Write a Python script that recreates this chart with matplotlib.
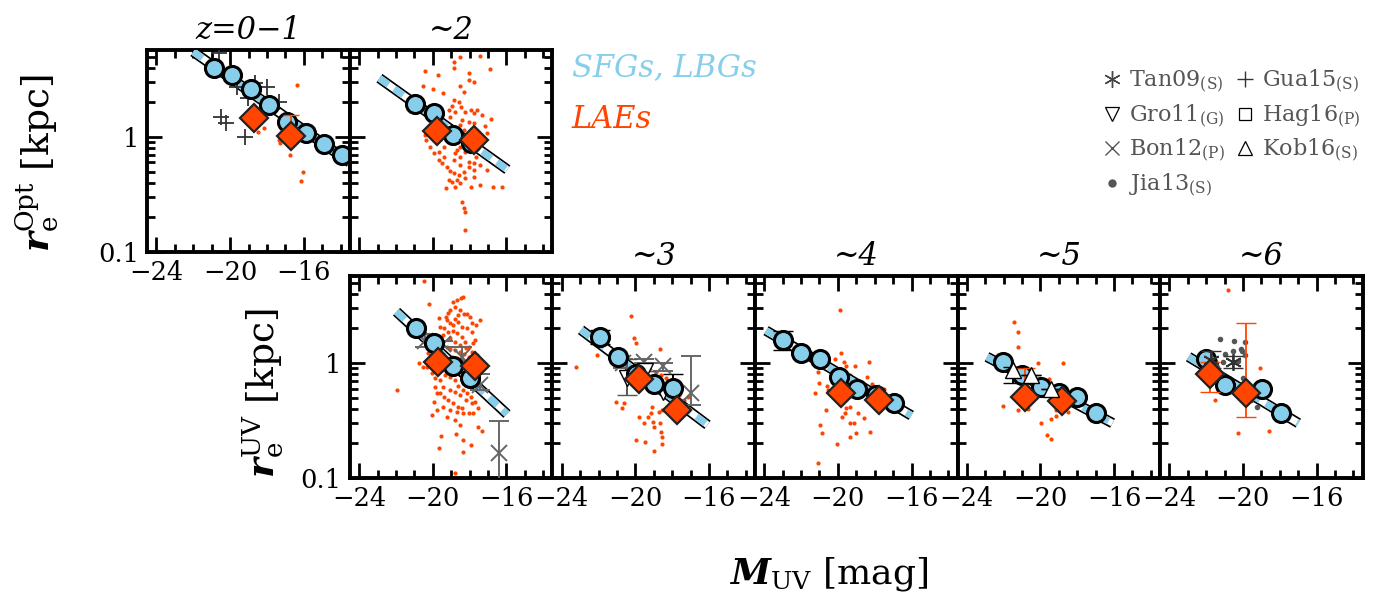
import numpy as np
import matplotlib
matplotlib.use("Agg")
import matplotlib.pyplot as plt
from matplotlib.ticker import MultipleLocator, LogLocator, FuncFormatter, NullFormatter
from matplotlib.lines import Line2D

plt.rcParams['font.family'] = ['DejaVu Serif']
plt.rcParams['mathtext.fontset'] = 'dejavuserif'

SKY = '#87CEEB'
RED = '#FF4500'

# ---------------- z = 0-1 (optical) ----------------
m_sfg_z01 = [-20.86, -19.90, -18.86, -17.90, -16.90, -15.86, -14.90, -13.90]
r_sfg_z01 = [3.96, 3.46, 2.59, 1.90, 1.36, 1.09, 0.87, 0.69]
fit_m_z01 = [-22.0, -13.5]
fit_r_z01 = [5.5, 0.60]
m_lae_z01 = [-18.72, -16.72]
r_lae_z01 = [1.45, 1.01]
r_lae_hi_z01 = [1.45, 1.55]
r_lae_lo_z01 = [1.45, 1.01]
m_dot_z01 = [-16.39, -18.14, -18.50, -17.35, -17.30, -16.77, -16.03, -16.17]
logr_dot_z01 = [0.452, 0.081, 0.046, -0.026, -0.050, -0.157, -0.308, -0.383]
m_gua15 = [-20.63, -19.63, -18.63, -17.99, -19.05, -17.35, -20.48, -20.21, -19.17]
logr_gua15 = [0.727, 0.431, 0.466, 0.431, 0.336, 0.307, 0.171, 0.118, 0.003]

# ---------------- z ~ 2 (optical) ----------------
m_sfg_z2o = [-20.95, -19.95, -18.92, -17.95]
r_sfg_z2o = [1.92, 1.63, 1.04, 0.89]
fit_m_z2o = [-22.9, -15.95]
fit_r_z2o = [3.24, 0.52]
m_lae_z2o = [-19.77, -17.77]
r_lae_z2o = [1.13, 0.95]
m_dot_z2o = [-20.41, -19.72, -18.86, -18.54, -17.41, -16.90, -18.05, -18.86, -20.54, -19.99,
             -19.45, -18.05, -17.77, -18.50, -18.32, -18.86, -18.59, -18.95, -19.14, -18.77,
             -18.46, -18.23, -17.95, -17.77, -17.59, -17.32, -16.86, -17.19, -17.77, -18.05,
             -18.41, -19.05, -18.77, -18.54, -18.32, -19.41, -19.50, -19.32, -20.14, -20.35,
             -20.14, -19.95, -19.68, -19.41, -19.05, -18.68, -18.50, -18.23, -17.95, -17.68,
             -17.50, -17.14, -16.95, -17.41, -17.77, -18.05, -18.32, -18.59, -18.86, -19.05,
             -19.23, -19.50, -18.86, -18.50, -18.23, -18.68, -18.95, -17.77, -16.72, -16.23,
             -17.41, -17.95, -18.50, -19.26, -18.77, -18.41, -18.32, -18.23, -18.23, -17.68,
             -17.41, -17.23, -17.05, -19.95, -20.41, -19.14, -18.95, -18.54, -17.59, -17.95,
             -18.23, -18.50, -18.77, -18.05, -17.77, -17.05, -19.14, -19.41, -19.68]
logr_dot_z2o = [0.577, 0.539, 0.597, 0.698, 0.704, 0.588, 0.559, 0.655, 0.443, 0.414,
                0.379, 0.495, 0.481, 0.443, 0.394, 0.321, 0.307, 0.269, 0.234, 0.220,
                0.258, 0.220, 0.234, 0.205, 0.234, 0.191, 0.153, 0.095, 0.119, 0.133,
                0.148, 0.177, 0.090, 0.104, 0.061, 0.075, 0.148, 0.124, 0.090, -0.026,
                -0.084, -0.142, -0.128, -0.084, -0.055, -0.113, -0.171, -0.128, -0.113, -0.099,
                -0.128, -0.142, -0.171, -0.244, -0.287, -0.258, -0.302, -0.331, -0.316, -0.293,
                -0.258, -0.229, -0.200, -0.244, -0.360, -0.374, -0.389, -0.345, -0.438, -0.432,
                -0.418, -0.432, -0.403, -0.447, -0.432, -0.563, -0.621, -0.650, -0.809, -0.171,
                -0.055, -0.026, 0.032, 0.032, 0.017, -0.026, 0.003, -0.026, 0.003, 0.046,
                -0.026, -0.084, -0.142, -0.215, -0.229, -0.287, -0.374, -0.171, -0.200]

# ---------------- z ~ 2 (UV) ----------------
m_sfg_z2 = [-20.92, -19.92, -18.92, -17.97]
r_sfg_z2 = [2.00, 1.50, 0.94, 0.74]
fit_m_z2 = [-21.97, -15.97]
fit_r_z2 = [2.79, 0.36]
m_lae_z2 = [-19.74, -17.70]
r_lae_z2 = [1.01, 0.94]
m_bon_z2 = [-20.43, -19.43, -18.43, -17.43, -16.43]
r_bon_z2 = [1.55, 1.46, 1.13, 0.64, 0.166]
r_bon_lo_z2 = [1.37, 1.38, 1.02, 0.58, 0.05]
r_bon_hi_z2 = [1.77, 1.55, 1.37, 0.80, 0.31]
m_dot_z2 = [-20.46, -20.19, -19.65, -18.92, -18.66, -18.48, -18.37, -19.28, -19.21, -19.06,
            -18.79, -18.61, -18.30, -18.15, -17.97, -17.43, -17.65, -17.88, -19.61, -19.39,
            -19.15, -18.88, -18.70, -18.43, -18.25, -18.01, -17.83, -17.70, -19.74, -19.57,
            -19.25, -19.06, -18.79, -18.52, -18.30, -18.06, -20.25, -20.37, -20.30, -20.06,
            -19.88, -19.61, -19.34, -19.06, -18.79, -18.61, -18.34, -18.12, -17.94, -17.70,
            -19.88, -19.61, -19.39, -19.15, -18.88, -18.61, -18.43, -18.34, -18.06, -17.79,
            -20.06, -19.25, -18.79, -18.52, -17.57, -17.34, -19.55, -18.74, -18.34, -17.92,
            -19.65, -18.37, -18.79, -21.94, -20.74, -20.55, -19.94, -19.34, -18.52, -19.61,
            -19.06, -18.79, -19.15, -18.52, -18.61, -18.88, -18.43, -18.15, -17.88, -19.43,
            -19.06, -18.79, -18.52, -18.19, -17.88, -17.61, -19.61, -19.25, -18.97, -18.70,
            -18.43, -18.15, -19.79, -19.52, -19.25, -18.79, -18.52, -18.25, -17.97, -17.61,
            -19.79, -19.43, -19.06, -18.79, -18.52, -18.19, -17.88, -17.52, -19.06, -18.70,
            -19.43, -19.79]
logr_dot_z2 = [0.716, 0.513, 0.389, 0.534, 0.548, 0.563, 0.577, 0.403, 0.374, 0.345,
               0.380, 0.360, 0.426, 0.426, 0.403, 0.374, 0.331, 0.345, 0.316, 0.302,
               0.273, 0.282, 0.258, 0.224, 0.186, 0.142, 0.171, 0.200, 0.229, 0.171,
               0.137, 0.119, 0.113, 0.099, 0.079, 0.050, 0.084, 0.012, -0.032, -0.090,
               -0.133, -0.147, -0.104, -0.118, -0.147, -0.200, -0.234, -0.263, -0.292, -0.336,
               -0.205, -0.263, -0.292, -0.321, -0.345, -0.379, -0.394, -0.437, -0.437, -0.437,
               -0.452, -0.466, -0.495, -0.539, -0.553, -0.588, -0.632, -0.617, -0.669, -0.713,
               -0.742, -0.771, -0.959, -0.234, -0.003, -0.032, -0.336, 0.026, -0.032, -0.061,
               0.461, 0.490, 0.432, 0.461, 0.418, 0.331, 0.316, 0.302, 0.273, 0.244,
               0.215, 0.186, 0.157, 0.128, 0.099, 0.070, 0.070, 0.055, 0.055, 0.041,
               0.026, -0.003, -0.032, -0.061, -0.075, -0.075, -0.090, -0.104, -0.118, -0.147,
               -0.263, -0.205, -0.234, -0.249, -0.278, -0.321, -0.350, -0.394, -0.408, -0.423,
               -0.379, -0.408]

# ---------------- z ~ 3 ----------------
m_sfg_z3 = [-21.90, -20.95, -19.94, -18.99, -17.94]
r_sfg_z3 = [1.67, 1.13, 0.81, 0.66, 0.61]
r_sfg_lo_z3 = [1.45, 1.13, 0.81, 0.66, 0.61]
r_sfg_hi_z3 = [1.94, 1.13, 0.81, 0.66, 0.81]
fit_m_z3 = [-22.95, -16.08]
fit_r_z3 = [1.94, 0.29]
m_lae_z3 = [-19.81, -17.72]
r_lae_z3 = [0.72, 0.39]
m_bon_z3 = [-20.66, -19.54, -18.48, -16.99]
r_bon_z3 = [0.99, 1.03, 0.94, 0.55]
r_bon_lo_z3 = [0.90, 0.99, 0.85, 0.43]
r_bon_hi_z3 = [1.09, 1.09, 0.99, 1.15]
m_gro_z3 = [-20.48, -19.50, -18.48]
r_gro_z3 = [0.74, 0.85, 0.56]
r_gro_lo_z3 = [0.53, 0.85, 0.56]
r_gro_hi_z3 = [1.08, 0.85, 0.56]
m_dot_z3 = [-23.21, -22.08, -20.26, -20.05, -19.99, -18.66, -19.81, -19.54, -19.14, -18.90,
            -18.63, -18.35, -18.08, -17.81, -17.63, -17.35, -17.14, -21.03, -20.63, -20.72,
            -19.08, -19.14, -18.72, -18.54, -19.81, -19.54, -19.03, -18.66, -18.99, -19.32,
            -18.63, -18.54, -19.94, -19.50, -18.99, -18.54]
logr_dot_z3 = [-0.037, 0.070, 0.409, 0.215, 0.177, 0.119, -0.032, -0.090, -0.118, -0.075,
               -0.104, -0.133, -0.147, -0.182, -0.278, -0.321, -0.292, -0.336, -0.350, -0.394,
               -0.379, -0.437, -0.423, -0.408, -0.466, -0.524, -0.510, -0.518, -0.553, -0.466,
               -0.597, -0.640, -0.669, -0.684, -0.765, -0.707]

# ---------------- z ~ 4 ----------------
m_sfg_z4 = [-22.99, -21.99, -20.99, -19.95, -18.95, -17.95, -16.95]
r_sfg_z4 = [1.59, 1.23, 1.08, 0.75, 0.59, 0.53, 0.45]
r_sfg_lo_z4 = [1.30, 1.23, 1.08, 0.75, 0.59, 0.53, 0.45]
r_sfg_hi_z4 = [1.91, 1.23, 1.08, 0.75, 0.59, 0.53, 0.45]
fit_m_z4 = [-23.90, -16.01]
fit_r_z4 = [1.91, 0.35]
m_lae_z4 = [-19.83, -17.77]
r_lae_z4 = [0.55, 0.48]
m_dot_z4 = [-19.90, -19.81, -20.17, -19.68, -19.54, -19.05, -18.32, -21.10, -18.41, -19.32,
            -21.05, -20.59, -20.55, -21.23, -18.14, -17.50, -20.63, -19.54, -19.32, -18.92,
            -18.59, -19.77, -19.32, -19.14, -20.99, -20.86, -18.99, -19.32, -18.23, -20.05,
            -21.10, -19.59]
logr_dot_z4 = [0.461, 0.090, 0.032, 0.012, -0.026, -0.026, 0.006, -0.075, -0.118, -0.104,
               -0.176, -0.200, -0.234, -0.263, -0.182, -0.229, -0.408, -0.394, -0.379, -0.432,
               -0.481, -0.466, -0.524, -0.518, -0.539, -0.611, -0.605, -0.640, -0.597, -0.704,
               -0.872, -0.437]

# ---------------- z ~ 5 ----------------
m_sfg_z5 = [-22.03, -20.99, -19.99, -18.99, -17.99, -16.99]
r_sfg_z5 = [1.03, 0.79, 0.62, 0.55, 0.51, 0.37]
fit_m_z5 = [-22.90, -16.08]
fit_r_z5 = [1.13, 0.30]
m_lae_z5 = [-20.81, -18.81]
r_lae_z5 = [0.51, 0.47]
r_lae_lo_z5 = [0.51, 0.47]
r_lae_hi_z5 = [0.90, 0.47]
m_kob_z5 = [-21.48, -20.50, -19.45]
r_kob_z5 = [0.87, 0.79, 0.60]
r_kob_lo_z5 = [0.67, 0.79, 0.60]
r_kob_hi_z5 = [0.92, 0.79, 0.60]
m_dot_z5 = [-21.45, -21.23, -21.23, -20.14, -18.75, -19.54, -22.03, -21.23, -20.68, -19.99,
            -19.45, -19.17, -18.50, -19.63, -19.41, -19.17]
logr_dot_z5 = [0.360, 0.273, 0.137, 0.003, 0.003, -0.142, -0.374, -0.408, -0.403, -0.518,
               -0.489, -0.461, -0.423, -0.626, -0.663, -0.408]

# ---------------- z ~ 6 ----------------
m_sfg_z6 = [-21.99, -20.95, -18.95, -17.94]
r_sfg_z6 = [1.08, 0.64, 0.59, 0.37]
fit_m_z6 = [-22.95, -16.99]
fit_r_z6 = [1.13, 0.30]
m_lae_z6 = [-21.81, -19.81]
r_lae_z6 = [0.80, 0.55]
r_lae_lo_z6 = [0.56, 0.34]
r_lae_hi_z6 = [1.03, 2.21]
m_tan_z6 = [-21.75, -20.54]
r_tan_z6 = [1.06, 1.03]
r_tan_lo_z6 = [0.90, 0.90]
r_tan_hi_z6 = [1.28, 1.15]
m_jia_z6 = [-21.23, -20.48, -19.86, -20.12, -20.05, -20.54, -20.99, -19.86, -21.54, -21.08,
            -20.26, -21.39, -19.99, -19.26, -19.54]
logr_jia_z6 = [0.209, 0.192, 0.186, 0.119, 0.108, 0.108, 0.079, 0.070, 0.018, 0.012,
               0.018, -0.032, -0.133, -0.379, -0.321]
m_dot_z6 = [-20.81, -19.08, -21.54, -20.26, -18.57]
logr_dot_z6 = [0.635, -0.046, -0.321, -0.611, -0.591]


def err(r, lo, hi):
    r = np.asarray(r)
    return [r - np.asarray(lo), np.asarray(hi) - r]


def setup(ax, xlabels=True, ylabels=True):
    ax.set_yscale('log')
    ax.set_xlim(-24.5, -13.5)
    ax.set_ylim(0.1, 5.7)
    ax.xaxis.set_major_locator(MultipleLocator(4))
    ax.xaxis.set_minor_locator(MultipleLocator(1))
    ax.yaxis.set_major_locator(LogLocator(base=10))
    ax.yaxis.set_minor_locator(LogLocator(base=10, subs=np.arange(2, 10)))
    ax.yaxis.set_major_formatter(FuncFormatter(lambda v, p: f'{v:g}'))
    ax.yaxis.set_minor_formatter(NullFormatter())
    ax.tick_params(which='both', direction='in', top=True, right=True, width=2.0,
                   labelsize=18.5, pad=6)
    ax.tick_params(which='major', length=11)
    ax.tick_params(which='minor', length=5.5)
    if not xlabels:
        ax.tick_params(labelbottom=False)
    if not ylabels:
        ax.tick_params(labelleft=False)
    for s in ax.spines.values():
        s.set_linewidth(2.8)


def fitline(ax, m, r):
    # dashed sky-blue/white band with a black outline
    ax.plot(m, r, color='black', lw=7.5, solid_capstyle='butt', zorder=3)
    ax.plot(m, r, color='white', lw=5.0, solid_capstyle='butt', zorder=3)
    ax.plot(m, r, color=SKY, lw=5.0, dashes=(1.6, 1.0), dash_capstyle='butt', zorder=3)


def dots(ax, m, logr):
    ax.scatter(m, 10 ** np.asarray(logr), s=9, color=RED, lw=0, zorder=2)


def sfg(ax, m, r):
    ax.plot(m, r, 'o', ms=13, mfc=SKY, mec='black', mew=2.2, ls='none', zorder=5)


def lae(ax, m, r):
    ax.plot(m, r, 'D', ms=14, mfc=RED, mec='#222222', mew=1.6, ls='none', zorder=6)


fig = plt.figure(figsize=(13.74, 5.95), dpi=100)
W, H = 0.1474, 0.3395
ax01 = fig.add_axes([0.1072, 0.5765, W, H])
ax2o = fig.add_axes([0.2547, 0.5765, W, H])
lefts = [0.2547, 0.4021, 0.5495, 0.6969, 0.8443]
axb = [fig.add_axes([l, 0.1966, W, H]) for l in lefts]

setup(ax01)
setup(ax2o, xlabels=False, ylabels=False)
for i, a in enumerate(axb):
    setup(a, ylabels=(i == 0))

tkw = dict(fontsize=22, style='italic', pad=8)
ax01.set_title('z=0\u22121', **tkw)
ax2o.set_title('~2', **tkw)
for a, t in zip(axb[1:], ['~3', '~4', '~5', '~6']):
    a.set_title(t, **tkw)

# z = 0-1
ax = ax01
ax.plot(m_gua15, 10 ** np.asarray(logr_gua15), '+', color='#333333', ms=12, mew=1.3, zorder=4)
dots(ax, m_dot_z01, logr_dot_z01)
fitline(ax, fit_m_z01, fit_r_z01)
sfg(ax, m_sfg_z01, r_sfg_z01)
ax.errorbar(m_lae_z01, r_lae_z01, yerr=err(r_lae_z01, r_lae_lo_z01, r_lae_hi_z01),
            fmt='none', ecolor=RED, elinewidth=1.2, capsize=6, zorder=5)
lae(ax, m_lae_z01, r_lae_z01)

# z ~ 2 optical
ax = ax2o
dots(ax, m_dot_z2o, logr_dot_z2o)
fitline(ax, fit_m_z2o, fit_r_z2o)
sfg(ax, m_sfg_z2o, r_sfg_z2o)
lae(ax, m_lae_z2o, r_lae_z2o)

# z ~ 2 UV
ax = axb[0]
dots(ax, m_dot_z2, logr_dot_z2)
ax.errorbar(m_bon_z2, r_bon_z2, yerr=err(r_bon_z2, r_bon_lo_z2, r_bon_hi_z2), fmt='x',
            color='#666666', ms=11, mew=1.4, elinewidth=1.4, capsize=7, zorder=4)
fitline(ax, fit_m_z2, fit_r_z2)
sfg(ax, m_sfg_z2, r_sfg_z2)
lae(ax, m_lae_z2, r_lae_z2)

# z ~ 3
ax = axb[1]
dots(ax, m_dot_z3, logr_dot_z3)
ax.errorbar(m_bon_z3, r_bon_z3, yerr=err(r_bon_z3, r_bon_lo_z3, r_bon_hi_z3), fmt='x',
            color='#666666', ms=11, mew=1.4, elinewidth=1.4, capsize=7, zorder=4)
ax.errorbar(m_gro_z3, r_gro_z3, yerr=err(r_gro_z3, r_gro_lo_z3, r_gro_hi_z3), fmt='v',
            mfc='white', mec='black', ecolor='#555555', ms=11, mew=1.0, elinewidth=1.4,
            capsize=7, zorder=4)
fitline(ax, fit_m_z3, fit_r_z3)
ax.errorbar(m_sfg_z3, r_sfg_z3, yerr=err(r_sfg_z3, r_sfg_lo_z3, r_sfg_hi_z3), fmt='none',
            ecolor='black', elinewidth=1.4, capsize=7, zorder=4)
sfg(ax, m_sfg_z3, r_sfg_z3)
lae(ax, m_lae_z3, r_lae_z3)

# z ~ 4
ax = axb[2]
dots(ax, m_dot_z4, logr_dot_z4)
fitline(ax, fit_m_z4, fit_r_z4)
ax.errorbar(m_sfg_z4, r_sfg_z4, yerr=err(r_sfg_z4, r_sfg_lo_z4, r_sfg_hi_z4), fmt='none',
            ecolor='black', elinewidth=1.4, capsize=7, zorder=4)
sfg(ax, m_sfg_z4, r_sfg_z4)
lae(ax, m_lae_z4, r_lae_z4)

# z ~ 5
ax = axb[3]
dots(ax, m_dot_z5, logr_dot_z5)
fitline(ax, fit_m_z5, fit_r_z5)
sfg(ax, m_sfg_z5, r_sfg_z5)
ax.errorbar(m_kob_z5, r_kob_z5, yerr=err(r_kob_z5, r_kob_lo_z5, r_kob_hi_z5), fmt='^',
            mfc='white', mec='black', ecolor='black', ms=11, mew=1.0, elinewidth=1.4,
            capsize=7, zorder=6)
ax.errorbar(m_lae_z5, r_lae_z5, yerr=err(r_lae_z5, r_lae_lo_z5, r_lae_hi_z5),
            fmt='none', ecolor=RED, elinewidth=1.3, capsize=7, zorder=5)
lae(ax, m_lae_z5, r_lae_z5)

# z ~ 6
ax = axb[4]
dots(ax, m_dot_z6, logr_dot_z6)
ax.scatter(m_jia_z6, 10 ** np.asarray(logr_jia_z6), s=16, color='#555555', lw=0, zorder=4)
fitline(ax, fit_m_z6, fit_r_z6)
sfg(ax, m_sfg_z6, r_sfg_z6)
ax.errorbar(m_tan_z6, r_tan_z6, yerr=err(r_tan_z6, r_tan_lo_z6, r_tan_hi_z6), fmt='none',
            ecolor='#333333', elinewidth=1.3, capsize=7, zorder=6)
ax.plot(m_tan_z6, r_tan_z6, marker=(6, 2, 0), color='#333333', ms=12, mew=1.3,
        ls='none', zorder=6)
ax.errorbar(m_lae_z6, r_lae_z6, yerr=err(r_lae_z6, r_lae_lo_z6, r_lae_hi_z6),
            fmt='none', ecolor=RED, elinewidth=1.3, capsize=7, zorder=5)
lae(ax, m_lae_z6, r_lae_z6)

# axis labels
fig.text(0.027, 0.725, r'$\mathbfit{r}_{\rm e}^{\rm Opt}$ [kpc]', rotation=90,
         ha='center', va='center', fontsize=27)
fig.text(0.192, 0.34, r'$\mathbfit{r}_{\rm e}^{\rm UV}$ [kpc]', rotation=90,
         ha='center', va='center', fontsize=27)
fig.text(0.603, 0.035, r'$\mathbfit{M}_{\rm UV}$ [mag]', ha='center', va='center',
         fontsize=26)

# sample labels
fig.text(0.416, 0.886, 'SFGs, LBGs', color=SKY, style='italic', fontsize=22,
         ha='left', va='center')
fig.text(0.416, 0.80, 'LAEs', color=RED, style='italic', fontsize=22,
         ha='left', va='center')

# literature legend
handles = [
    Line2D([], [], marker=(6, 2, 0), color='#444444', ms=12, mew=1.0, ls='none'),
    Line2D([], [], marker='v', mfc='white', mec='black', ms=10, mew=0.9, ls='none'),
    Line2D([], [], marker='x', color='#555555', ms=10, mew=1.0, ls='none'),
    Line2D([], [], marker='o', color='#555555', ms=5, ls='none'),
    Line2D([], [], marker='+', color='#333333', ms=12, mew=1.0, ls='none'),
    Line2D([], [], marker='s', mfc='white', mec='black', ms=8.5, mew=0.9, ls='none'),
    Line2D([], [], marker='^', mfc='white', mec='black', ms=10, mew=0.9, ls='none'),
]
labels = [r'Tan09$_{\rm (S)}$', r'Gro11$_{\rm (G)}$', r'Bon12$_{\rm (P)}$',
          r'Jia13$_{\rm (S)}$', r'Gua15$_{\rm (S)}$', r'Hag16$_{\rm (P)}$',
          r'Kob16$_{\rm (S)}$']
fig.legend(handles, labels, ncol=2, loc='upper left', bbox_to_anchor=(0.795, 0.905),
           frameon=False, fontsize=16, labelcolor='#555555', handlelength=0.8,
           handletextpad=0.35, columnspacing=0.5, labelspacing=0.35, borderpad=0)

fig.savefig('out.png', dpi=100)
